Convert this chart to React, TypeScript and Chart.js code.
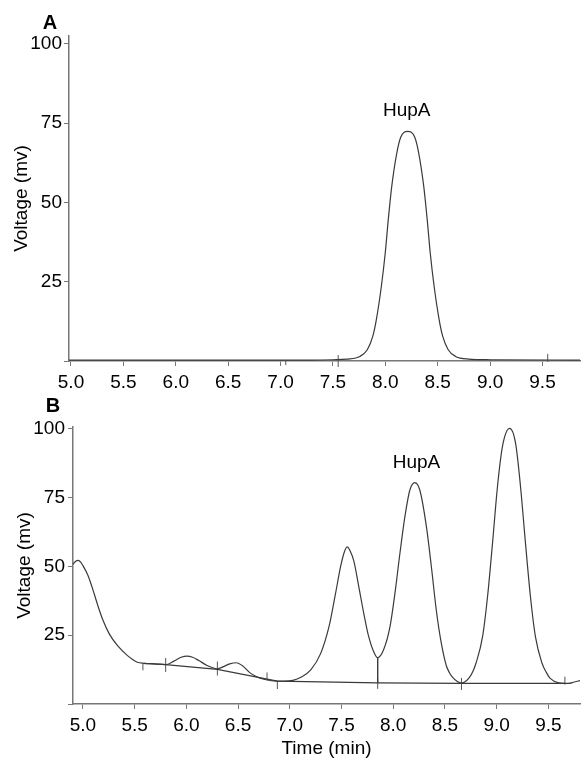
import React, { useEffect, useRef } from "react";
import { Chart, registerables } from "chart.js";

Chart.register(...registerables);

// ---------- tick labels ----------
const xTickValues = [5.0, 5.5, 6.0, 6.5, 7.0, 7.5, 8.0, 8.5, 9.0, 9.5];
const yTickValues = [0, 25, 50, 75, 100];

// ---------- panel A : standard ----------
const aTime = [4.981, 7.3, 7.5, 7.634, 7.757, 7.828, 7.88, 7.914, 7.962, 7.999, 8.028, 8.061, 8.109, 8.146, 8.214, 8.282, 8.319, 8.367, 8.4, 8.429, 8.466, 8.514, 8.548, 8.6, 8.671, 8.794, 9.0, 9.858];
const aVoltage = [0.3, 0.3, 0.4, 0.6, 1.45, 3.56, 7.76, 13.0, 23.5, 34.0, 44.5, 55.0, 65.5, 70.5, 72.4, 70.5, 65.5, 55.0, 44.5, 34.0, 23.5, 13.0, 7.76, 3.56, 1.45, 0.6, 0.4, 0.3];
const aMarkTime = [7.05, 7.55, 9.55];
const aMarkVoltage = [-0.5, 0.0, 1.0];
const aMarkSize = [2.5, 6, 4];

// ---------- panel B : extract ----------
const bTime = [4.904, 4.93, 4.955, 4.98, 5.0, 5.048, 5.096, 5.144, 5.192, 5.256, 5.335, 5.431, 5.527, 5.59, 5.7, 5.8, 5.88, 5.95, 6.006, 6.06, 6.12, 6.2, 6.27, 6.3, 6.36, 6.42, 6.485, 6.54, 6.613, 6.68, 6.75, 6.88, 6.95, 7.03, 7.107, 7.203, 7.299, 7.379, 7.443, 7.491, 7.525, 7.555, 7.585, 7.619, 7.667, 7.715, 7.763, 7.811, 7.849, 7.906, 7.969, 8.017, 8.065, 8.113, 8.161, 8.209, 8.257, 8.321, 8.369, 8.417, 8.465, 8.513, 8.545, 8.577, 8.62, 8.656, 8.69, 8.736, 8.77, 8.8, 8.864, 8.912, 8.96, 9.008, 9.056, 9.126, 9.183, 9.231, 9.279, 9.327, 9.375, 9.439, 9.48, 9.518, 9.6, 9.694, 9.75, 9.806];
const bVoltage = [50.8, 51.9, 52.2, 51.5, 50.3, 46.8, 41.6, 35.8, 30.6, 25.4, 21.2, 17.6, 15.2, 14.8, 14.6, 14.3, 15.6, 17.0, 17.4, 17.0, 15.8, 14.0, 13.0, 12.8, 13.6, 14.6, 15.0, 14.0, 11.4, 9.9, 9.0, 8.3, 8.3, 8.6, 9.7, 12.4, 18.4, 28.1, 40.3, 49.9, 55.0, 57.1, 55.5, 52.0, 42.7, 33.0, 24.5, 19.0, 16.8, 19.6, 28.1, 40.3, 54.8, 68.1, 77.8, 80.5, 77.8, 64.5, 49.9, 34.0, 22.1, 14.0, 11.3, 9.6, 8.2, 7.6, 8.0, 9.6, 11.8, 14.8, 24.5, 39.0, 58.4, 79.0, 93.6, 100.2, 94.8, 79.0, 58.4, 39.0, 24.5, 14.8, 11.5, 9.3, 7.7, 7.5, 8.0, 8.5];
const bBaseTime = [5.59, 5.8, 6.3, 6.88, 7.85, 8.66, 9.66];
const bBaseVoltage = [14.8, 14.3, 12.6, 8.3, 7.7, 7.5, 7.5];
const bDropTime = [7.85, 7.85];
const bDropVoltage = [7.7, 16.8];
const bMarkTime = [5.58, 5.8, 6.3, 6.78, 6.88, 7.85, 8.66, 9.66];
const bMarkVoltage = [13.5, 14.2, 12.9, 10.0, 6.9, 7.3, 7.3, 8.5];
const bMarkSize = [3.5, 7, 7, 4, 4, 5, 6, 4];

const FONT = '"Liberation Sans", Arial, Helvetica, sans-serif';
const AXIS = "#777777";
const TRACE = "#3a3a3a";

const zip = (xs: number[], ys: number[]) => xs.map((x, i) => ({ x, y: ys[i] }));

const annotPlugin = {
  id: "annot",
  afterDatasetsDraw(chart: any, _args: any, opts: any) {
    const { ctx, chartArea, scales } = chart;
    ctx.save();
    ctx.fillStyle = "#000";
    ctx.textAlign = "center";
    ctx.textBaseline = "middle";
    ctx.font = `bold 20px ${FONT}`;
    ctx.fillText(opts.letter, chartArea.left + opts.letterDx, chartArea.top + opts.letterDy);
    ctx.font = `19px ${FONT}`;
    ctx.fillText(opts.label, scales.x.getPixelForValue(opts.labelX), scales.y.getPixelForValue(opts.labelY));
    ctx.restore();
  },
};

function makeConfig(p: any) {
  const datasets: any[] = [
    {
      data: zip(p.time, p.volt),
      borderColor: TRACE,
      borderWidth: 1.2,
      pointRadius: 0,
      cubicInterpolationMode: "monotone",
      fill: false,
    },
  ];
  if (p.baseTime) {
    datasets.push({
      data: zip(p.baseTime, p.baseVolt),
      borderColor: TRACE,
      borderWidth: 1.2,
      pointRadius: 0,
      tension: 0,
      fill: false,
    });
    datasets.push({
      data: zip(p.dropTime, p.dropVolt),
      borderColor: TRACE,
      borderWidth: 1.4,
      pointRadius: 0,
      tension: 0,
      fill: false,
    });
  }
  datasets.push({
    data: zip(p.markTime, p.markVolt),
    showLine: false,
    pointStyle: "line",
    rotation: 90,
    pointRadius: p.markSize,
    borderColor: "#555",
    borderWidth: 1,
    clip: false,
  });

  return {
    type: "line",
    data: { datasets },
    plugins: [annotPlugin],
    options: {
      animation: false,
      responsive: false,
      events: [],
      layout: { padding: { top: p.padTop, left: 0, right: 0, bottom: 0 } },
      plugins: {
        legend: { display: false },
        tooltip: { enabled: false },
        annot: {
          letter: p.letter,
          letterDx: p.letterDx,
          letterDy: p.letterDy,
          label: "HupA",
          labelX: p.labelX,
          labelY: p.labelY,
        },
      },
      scales: {
        x: {
          type: "linear",
          min: p.xMin,
          max: p.xMax,
          afterBuildTicks: (s: any) => {
            s.ticks = xTickValues.map((v) => ({ value: v }));
          },
          afterFit: (s: any) => {
            s.height = p.xHeight;
          },
          ticks: {
            color: "#000",
            font: { family: FONT, size: 19 },
            padding: 5,
            maxRotation: 0,
            autoSkip: false,
            callback: (v: any) => Number(v).toFixed(1),
          },
          grid: { drawOnChartArea: false, drawTicks: true, tickLength: 5, color: AXIS, lineWidth: 1 },
          border: { display: true, color: AXIS, width: 1.5 },
          title: p.xTitle
            ? { display: true, text: p.xTitle, color: "#000", font: { family: FONT, size: 19 }, padding: { top: 0, bottom: 0 } }
            : { display: false },
        },
        y: {
          type: "linear",
          min: 0,
          max: p.yMax,
          afterBuildTicks: (s: any) => {
            s.ticks = yTickValues.map((v) => ({ value: v }));
          },
          afterFit: (s: any) => {
            s.width = p.yWidth;
          },
          ticks: {
            color: "#000",
            font: { family: FONT, size: 19 },
            padding: p.yPad,
            callback: (v: any) => (Number(v) === 0 ? "" : String(v)),
          },
          grid: { drawOnChartArea: false, drawTicks: true, tickLength: 5, color: AXIS, lineWidth: 1 },
          border: { display: true, color: AXIS, width: 1.5 },
          title: {
            display: true,
            text: "Voltage (mv)",
            color: "#000",
            font: { family: FONT, size: 19 },
            padding: { top: p.yTitlePad, bottom: 0 },
          },
        },
      },
    },
  } as any;
}

function Panel(props: { cfg: any; top: number; height: number }) {
  const ref = useRef<HTMLCanvasElement | null>(null);
  useEffect(() => {
    if (!ref.current) return;
    const chart = new Chart(ref.current, makeConfig(props.cfg));
    return () => chart.destroy();
  }, []);
  return (
    <canvas
      ref={ref}
      width={585}
      height={props.height}
      style={{ position: "absolute", left: 0, top: props.top, width: 585, height: props.height }}
    />
  );
}

const panelA = {
  time: aTime, volt: aVoltage,
  markTime: aMarkTime, markVolt: aMarkVoltage, markSize: aMarkSize,
  xMin: 4.981, xMax: 9.858, yMax: 102.5,
  padTop: 36, xHeight: 34, yWidth: 69, yPad: 2, yTitlePad: 10,
  letter: "A", letterDx: -19, letterDy: -13,
  labelX: 8.204, labelY: 78.8,
  xTitle: "",
};

const panelB = {
  time: bTime, volt: bVoltage,
  baseTime: bBaseTime, baseVolt: bBaseVoltage,
  dropTime: bDropTime, dropVolt: bDropVoltage,
  markTime: bMarkTime, markVolt: bMarkVoltage, markSize: bMarkSize,
  xMin: 4.904, xMax: 9.806, yMax: 100.7,
  padTop: 32, xHeight: 56, yWidth: 73, yPad: 3, yTitlePad: 13,
  letter: "B", letterDx: -20, letterDy: -20.5,
  labelX: 8.225, labelY: 87.8,
  xTitle: "Time (min)",
};

export default function App() {
  return (
    <div style={{ position: "fixed", left: 0, top: 0, width: 585, height: 760, background: "#fff", overflow: "hidden" }}>
      <Panel cfg={panelA} top={0} height={395} />
      <Panel cfg={panelB} top={395} height={365} />
    </div>
  );
}
